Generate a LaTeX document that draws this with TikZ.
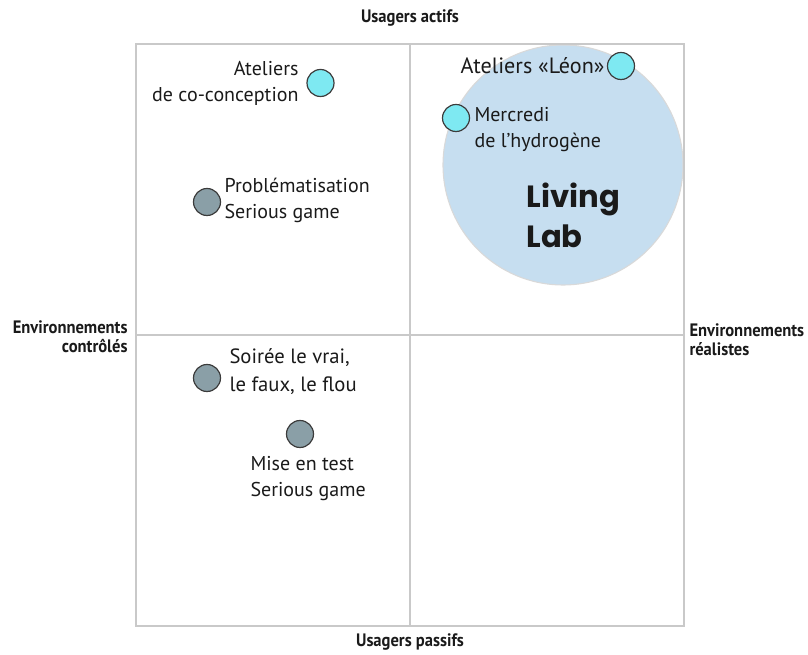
\documentclass[tikz,border=0pt]{standalone}
\usepackage{fontspec}
\setmainfont{PT Sans}
\newfontfamily\labfont{Poppins}
\newfontfamily\axisfont{PT Sans}[FakeStretch=0.92]

\definecolor{gridgray}{HTML}{C9C9C9}
\definecolor{lablue}{HTML}{C6DEF0}
\definecolor{bubcyan}{HTML}{7EE9F2}
\definecolor{bubgray}{HTML}{8A9FA7}
\definecolor{inkdark}{HTML}{1A1A1A}

\tikzset{every picture/.style={line width=0.75pt}}
\tikzset{
    gridline/.style={draw=gridgray, line width=1.1pt},
    bubble/.style={draw=inkdark!85, line width=0.9pt},
    cyanbubble/.style={bubble, fill=bubcyan},
    graybubble/.style={bubble, fill=bubgray},
    axislabel/.style={inner sep=0pt, text=inkdark, font=\axisfont\bfseries\fontsize{13.5}{14.5}\selectfont},
    itemlabel/.style={inner sep=0pt, text=inkdark, font=\fontsize{15}{19.5}\selectfont}}
\def\bubr{13.5}

\begin{document}
\begin{tikzpicture}[x=0.75pt,y=0.75pt,yscale=-1,xscale=1]
            \useasboundingbox (0,0) rectangle (808,655);

            %Living Lab circle
            \draw [draw=gridgray!70, fill=lablue, line width=0.8pt] (563,165) circle [radius=120];

            %Frame
            \draw [gridline] (136,44) rectangle (684,626);
            %Quadrants
            \draw [gridline] (410,44) -- (410,626);
            \draw [gridline] (136,335) -- (684,335);

            %Axis labels
            \draw (410,18) node (actifs) [axislabel] [align=center] {Usagers actifs};
            \draw (410,642) node (passifs) [axislabel] [align=center] {Usagers passifs};
            \draw (128,337) node (controles) [axislabel, anchor = east] [align=right] {Environnements\\contrôlés};
            \draw (689,340) node (realistes) [axislabel, anchor = west] [align=left] {Environnements\\réalistes};

            %Bubbles
            \draw [cyanbubble] (320.5,83) circle [radius=\bubr];
            \draw [graybubble] (207,202) circle [radius=\bubr];
            \draw [cyanbubble] (621,66) circle [radius=\bubr];
            \draw [cyanbubble] (456,118) circle [radius=\bubr];
            \draw [graybubble] (207,378) circle [radius=\bubr];
            \draw [graybubble] (300,434) circle [radius=\bubr];

            %Labels
            \draw (299,83) node (coconception) [itemlabel, anchor = east] [align=right] {Ateliers\\de co-conception};
            \draw (224,200) node (problematisation) [itemlabel, anchor = west] [align=left] {Problématisation\\Serious game};
            \draw (605,66) node (leon) [itemlabel, anchor = east, font=\fontsize{16.6}{20}\selectfont] [align=right] {Ateliers «Léon»};
            \draw (474,130) node (mercredi) [itemlabel, anchor = west] [align=left] {Mercredi\\de l’hydrogène};
            \draw (526,215) node (livinglab) [itemlabel, anchor = west, font=\labfont\bfseries\fontsize{23}{30}\selectfont] [align=left] {Living\\Lab};
            \draw (229,372) node (soiree) [itemlabel, anchor = west, font=\fontsize{15.5}{21}\selectfont] [align=left] {Soirée le vrai,\\le faux, le flou};
            \draw (250,479) node (misentest) [itemlabel, anchor = west] [align=left] {Mise en test\\Serious game};
        \end{tikzpicture}
\end{document}
